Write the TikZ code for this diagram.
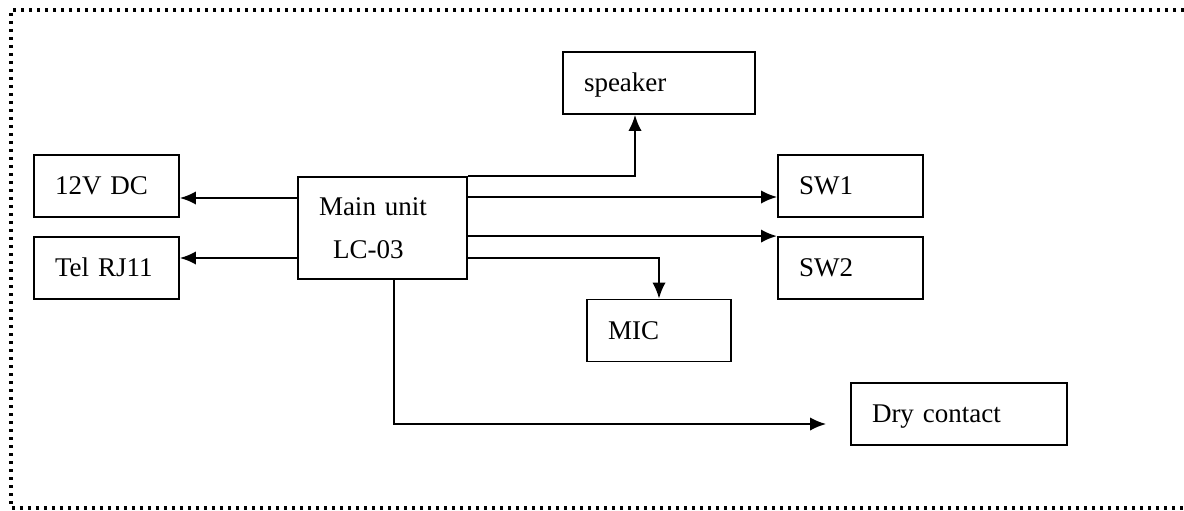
\documentclass[tikz,border=0pt]{standalone}
\usepackage{fontspec}
\setmainfont{Liberation Serif}
\usepackage{tikz}
\usetikzlibrary{arrows.meta}
\tikzset{>={Latex[length=12pt, width=10pt]}}
\tikzset{
    block/.style={draw, line width=1.4pt, inner ysep=0pt, align=left,
        font=\fontsize{20.25pt}{32.25pt}\selectfont},
    unit/.style={block, minimum height=46.5pt, inner xsep=15.75pt, text height=13.4pt, text depth=0pt},
    wire/.style={line width=1.4pt, ->},
    frame/.style={line width=2.6pt, dash pattern=on 2.4pt off 3.6pt}
}

\begin{document}
\begin{tikzpicture}[x=0.75pt, y=-0.75pt]
    \useasboundingbox(0, 0)rectangle(1184, 510);
    \draw[frame](1184, 10)--(11, 10)--(11, 508)--(1184, 508);
    % boxes
    \node[unit, text width=77.25pt](dc)at(106.5, 186){12V DC};
    \node[unit, text width=77.25pt](tel)at(106.5, 268){Tel RJ11};
    \node[unit, text width=112.5pt](spk)at(659, 83){speaker};
    \node[unit, text width=77.25pt](swa)at(850.5, 186){SW1};
    \node[unit, text width=77.25pt](swb)at(850.5, 268){SW2};
    \node[unit, text width=76.5pt](mic)at(659, 330.5){MIC};
    \node[unit, text width=130.5pt](dry)at(959, 414){Dry contact};
    \node[block, minimum width=126.75pt, minimum height=76.5pt, inner xsep=15.75pt,
        text width=95.25pt](main)at(382.5, 228){Main unit\\\hspace*{10.5pt}LC-03};
    % connectors
    \draw[wire](main.west |- 0, 198)--(dc.east |- 0, 198);
    \draw[wire](main.west |- 0, 258)--(tel.east |- 0, 258);
    \draw[wire](main.north east)-|([xshift=-18pt]spk.south);
    \draw[wire](main.east |- 0, 197)--(swa.west |- 0, 197);
    \draw[wire, line width=1.8pt](main.east |- swb.north west)--(swb.north west);
    \draw[wire](main.east |- 0, 258)-|(mic.north);
    \draw[wire](main.south -| 394, 0)|-([shift={(-24, 10)}]dry.west);
\end{tikzpicture}
\end{document}
